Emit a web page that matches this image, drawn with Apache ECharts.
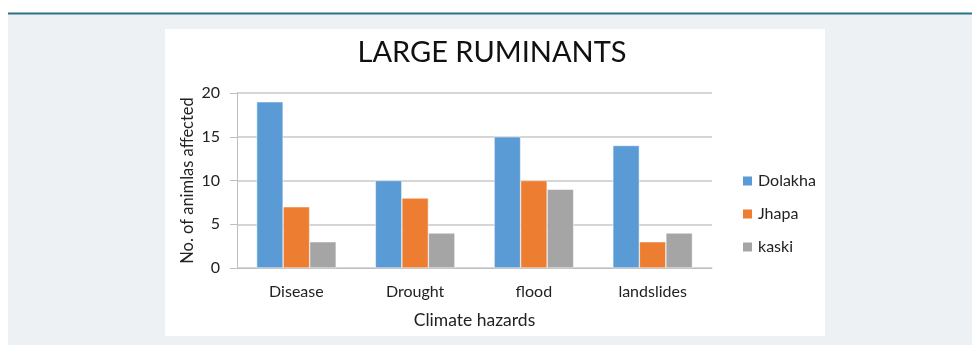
<!DOCTYPE html>
<html>
<head>
<meta charset="utf-8">
<script src="https://cdn.jsdelivr.net/npm/echarts@6/dist/echarts.min.js"></script>
<style>
html,body{margin:0;padding:0;background:#fff;}
#chart{width:972px;height:345px;}
</style>
</head>
<body>
<div id="chart"></div>
<script>
const categories = ['Disease', 'Drought', 'flood', 'landslides'];
const seriesNames = ['Dolakha', 'Jhapa', 'kaski'];
const dolakha = [19, 10, 15, 14];
const jhapa = [7, 8, 10, 3];
const kaski = [3, 4, 9, 4];
const yTicks = [0, 5, 10, 15, 20];

const FONT = 'Lato, "Open Sans", sans-serif';
const chart = echarts.init(document.getElementById('chart'), null, {renderer: 'canvas'});
const colors = ['#5b9bd5', '#ed7d31', '#a5a5a5'];
const values = [dolakha, jhapa, kaski];

chart.setOption({
  backgroundColor: '#ffffff',
  animation: false,
  textStyle: {fontFamily: FONT},
  graphic: [
    {type: 'rect', z: -10, silent: true, shape: {x: 8, y: 14, width: 964, height: 331}, style: {fill: '#edf1f4'}},
    {type: 'rect', z: -10, silent: true, shape: {x: 8, y: 12.5, width: 964, height: 2}, style: {fill: '#2a7386'}},
    {type: 'rect', z: -9, silent: true, shape: {x: 165, y: 29, width: 660, height: 307}, style: {fill: '#ffffff'}}
  ],
  title: {
    text: 'LARGE RUMINANTS',
    left: 487, textAlign: 'center', top: 33,
    textStyle: {fontFamily: FONT, fontSize: 29, fontWeight: 'normal', color: '#111'}
  },
  legend: {
    orient: 'vertical',
    left: 736, top: 168,
    itemWidth: 11, itemHeight: 11, itemGap: 17,
    icon: 'rect',
    textStyle: {fontFamily: FONT, fontSize: 16, color: '#222'},
    data: seriesNames
  },
  grid: {left: 237, right: 260, top: 93, bottom: 77, containLabel: false},
  xAxis: {
    type: 'category',
    data: categories,
    name: 'Climate hazards',
    nameLocation: 'middle',
    nameGap: 43,
    nameTextStyle: {fontFamily: FONT, fontSize: 17.5, color: '#222'},
    axisLine: {lineStyle: {color: '#bfbfbf', width: 1}},
    axisTick: {show: false},
    axisLabel: {fontFamily: FONT, fontSize: 16, color: '#222', margin: 16}
  },
  yAxis: {
    type: 'value',
    min: yTicks[0], max: yTicks[yTicks.length - 1], interval: 5,
    name: 'No. of animlas affected',
    nameLocation: 'middle',
    nameGap: 41,
    nameRotate: 90,
    nameTextStyle: {fontFamily: FONT, fontSize: 16.5, color: '#222'},
    axisLine: {show: true, lineStyle: {color: '#bfbfbf', width: 1}},
    axisTick: {show: true, length: 7, lineStyle: {color: '#bfbfbf'}},
    axisLabel: {fontFamily: FONT, fontSize: 16, color: '#222', margin: 17},
    splitLine: {lineStyle: {color: '#c8c8c8', width: 1.5}}
  },
  series: seriesNames.map((n, i) => ({
    name: n,
    type: 'bar',
    data: values[i],
    barGap: '0%',
    barCategoryGap: '33%',
    itemStyle: {color: colors[i], borderColor: '#ffffff', borderWidth: 0.5}
  }))
});
</script>
</body>
</html>
